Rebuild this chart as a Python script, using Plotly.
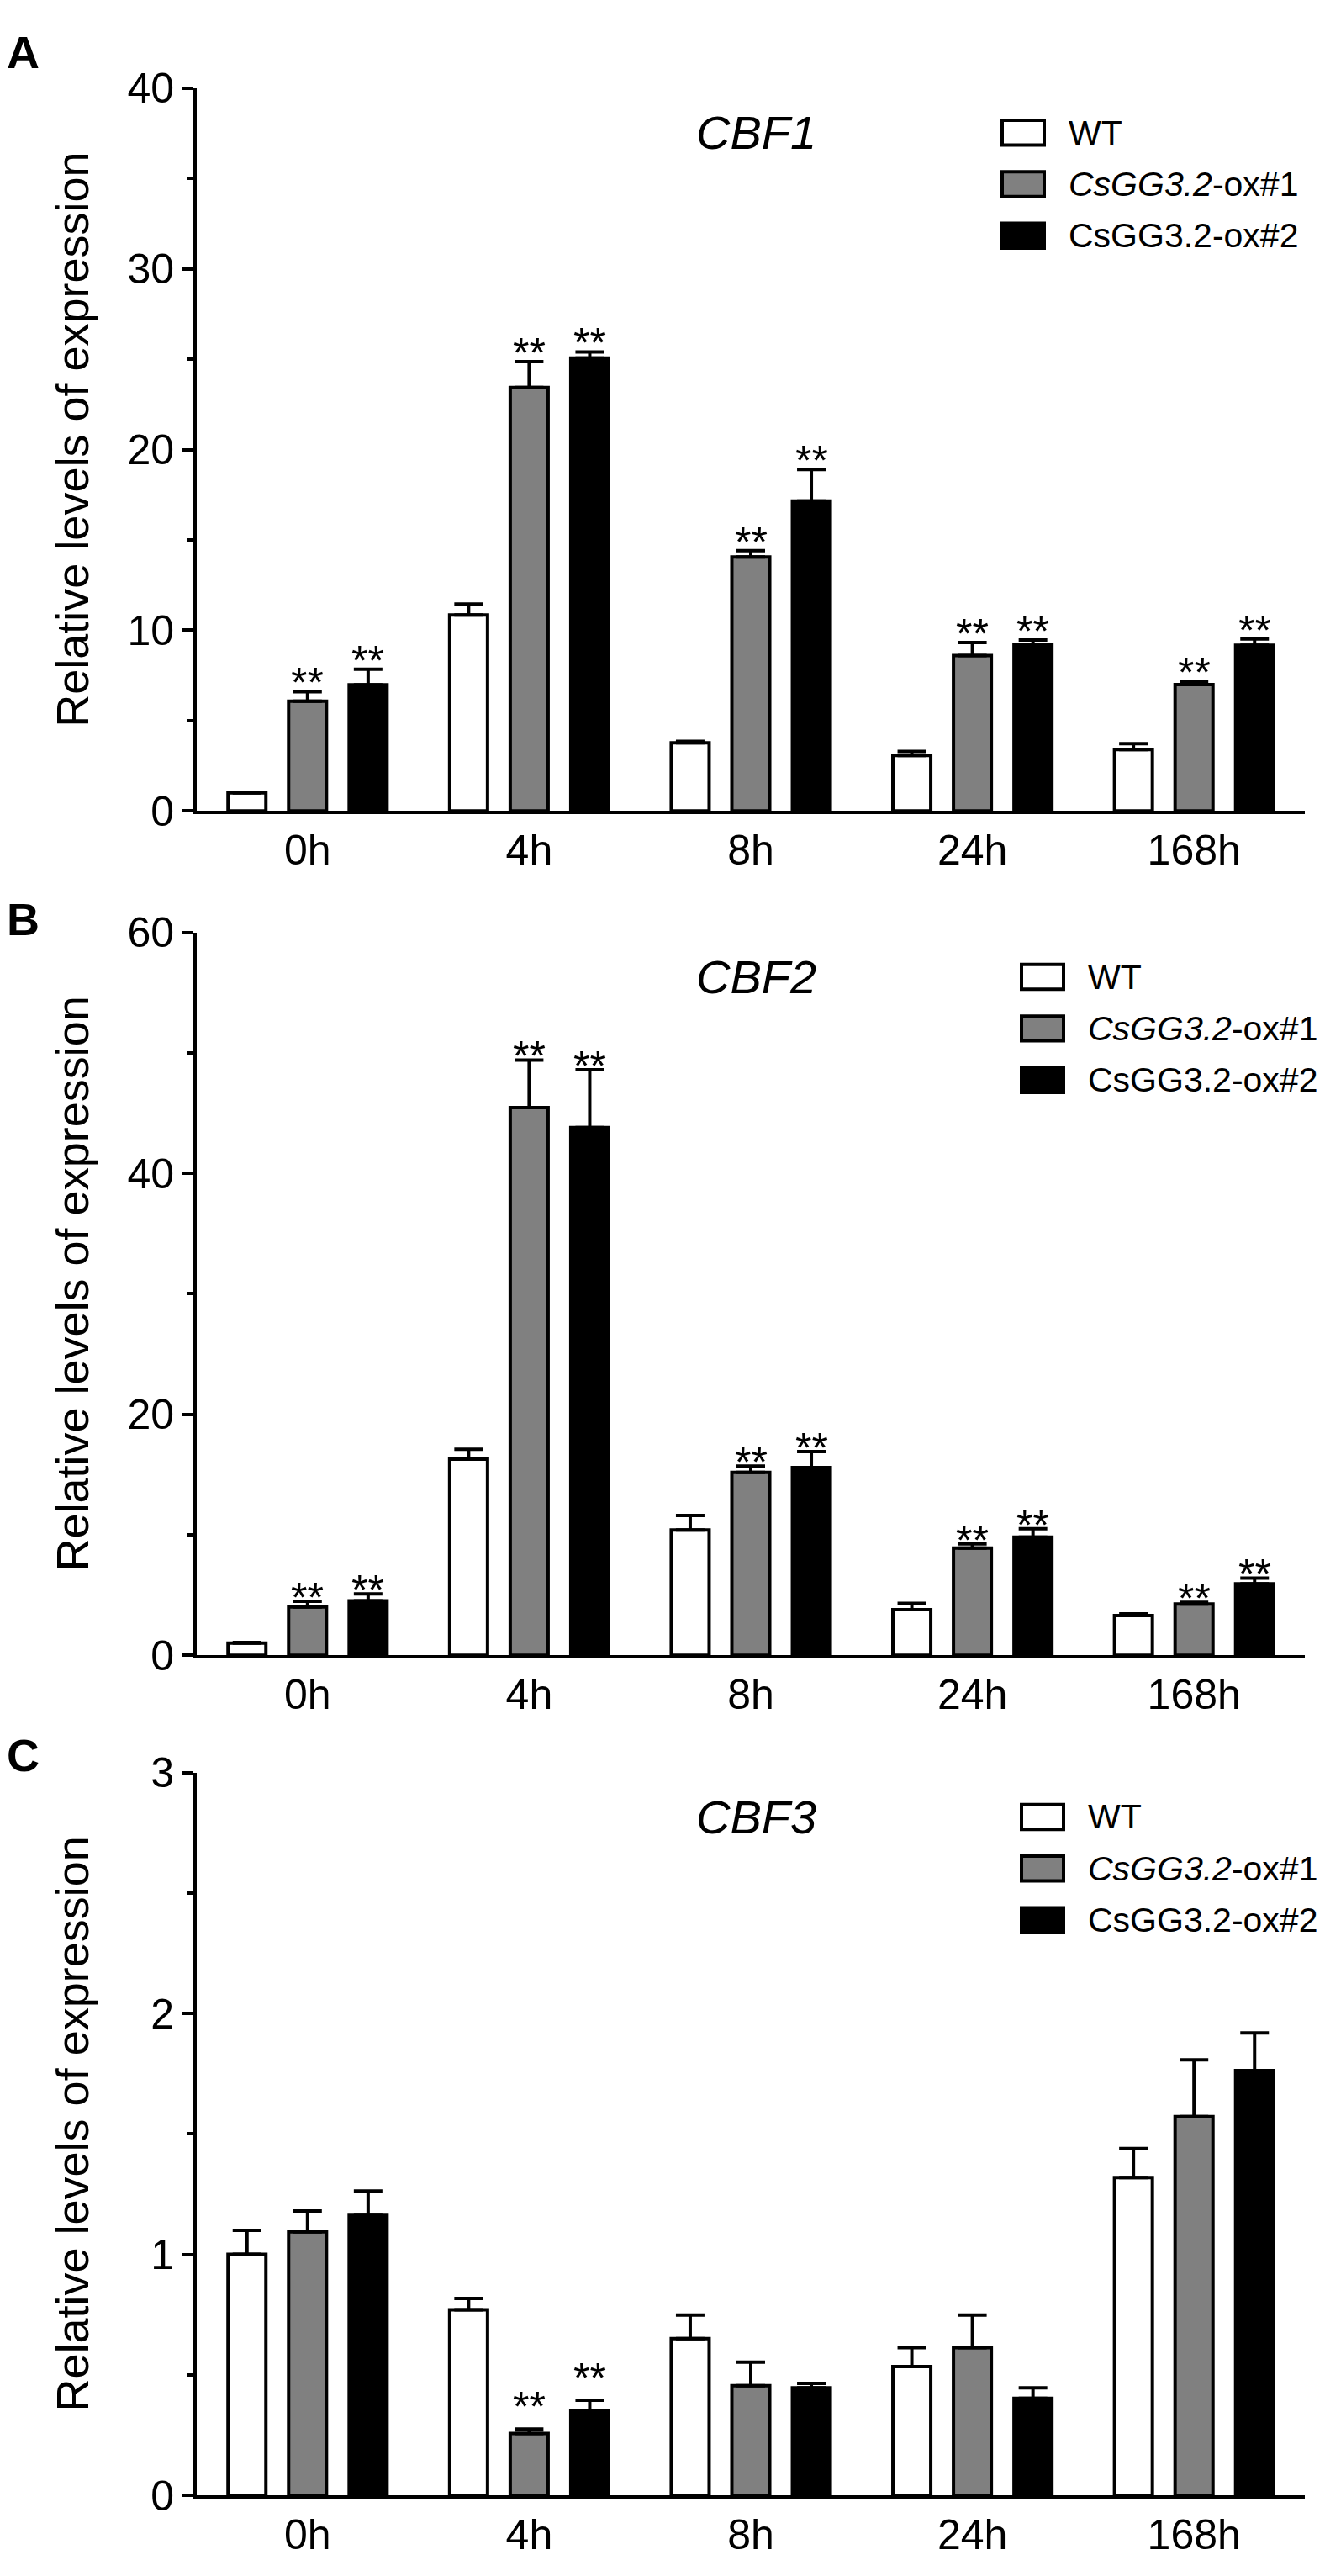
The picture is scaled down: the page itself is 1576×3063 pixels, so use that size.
import plotly.graph_objects as go
from plotly.subplots import make_subplots

# target picture size and the page margin the browser adds around the figure
W, H = 1576, 3063
PAD = 8
FW, FH = W - 2 * PAD, H - 2 * PAD

# time points and plant lines
times = ["0h", "4h", "8h", "24h", "168h"]
lines = ["WT", "CsGG3.2-ox#1", "CsGG3.2-ox#2"]
legend_labels = ["WT", "<i>CsGG3.2</i>-ox#1", "CsGG3.2-ox#2"]
colors = ["white", "#808080", "black"]
genes = ["CBF1", "CBF2", "CBF3"]
panel_letters = ["A", "B", "C"]

# CBF1: means and upper error (SD)
cbf1_wt = [1.0, 10.85, 3.77, 3.07, 3.4]
cbf1_wt_err = [0.0, 0.6, 0.08, 0.23, 0.32]
cbf1_ox1 = [6.08, 23.43, 14.05, 8.6, 6.99]
cbf1_ox1_err = [0.52, 1.43, 0.36, 0.72, 0.19]
cbf1_ox2 = [6.98, 25.06, 17.15, 9.2, 9.17]
cbf1_ox2_err = [0.86, 0.34, 1.75, 0.26, 0.35]
cbf1_sig = [["", "", "", "", ""], ["**"] * 5, ["**"] * 5]

# CBF2
cbf2_wt = [1.0, 16.27, 10.4, 3.78, 3.3]
cbf2_wt_err = [0.05, 0.83, 1.2, 0.52, 0.13]
cbf2_ox1 = [4.0, 45.45, 15.18, 8.89, 4.26]
cbf2_ox1_err = [0.48, 3.95, 0.52, 0.36, 0.13]
cbf2_ox2 = [4.52, 43.8, 15.57, 9.8, 5.92]
cbf2_ox2_err = [0.57, 4.8, 1.33, 0.7, 0.48]
cbf2_sig = [["", "", "", "", ""], ["**"] * 5, ["**"] * 5]

# CBF3
cbf3_wt = [1.0, 0.77, 0.65, 0.534, 1.319]
cbf3_wt_err = [0.10, 0.047, 0.098, 0.079, 0.12]
cbf3_ox1 = [1.094, 0.257, 0.455, 0.613, 1.572]
cbf3_ox1_err = [0.086, 0.018, 0.098, 0.135, 0.235]
cbf3_ox2 = [1.165, 0.352, 0.446, 0.403, 1.763]
cbf3_ox2_err = [0.098, 0.043, 0.019, 0.043, 0.156]
cbf3_sig = [["", "", "", "", ""], ["", "**", "", "", ""], ["", "**", "", "", ""]]

panels = [
    ([cbf1_wt, cbf1_ox1, cbf1_ox2], [cbf1_wt_err, cbf1_ox1_err, cbf1_ox2_err], cbf1_sig),
    ([cbf2_wt, cbf2_ox1, cbf2_ox2], [cbf2_wt_err, cbf2_ox1_err, cbf2_ox2_err], cbf2_sig),
    ([cbf3_wt, cbf3_ox1, cbf3_ox2], [cbf3_wt_err, cbf3_ox1_err, cbf3_ox2_err], cbf3_sig),
]
y_ranges = [[0, 40], [0, 60], [0, 3]]
y_dticks = [10, 20, 1]

# layout in picture pixels
x_left, x_right = 234, 1552
panel_tops = [78, 1101, 2119]
panel_h = 876
legend_x = [1192, 1215, 1215]
letter_y = [35, 1085, 2098]
star_shift = [10, 4, 26]
bargap = 0.18
FONT = "Liberation Sans, Arial, sans-serif"


def px_x(p):
    return (p - PAD) / FW


def px_y(p):
    return 1 - (p - PAD) / FH


fig = make_subplots(rows=3, cols=1)

slot_px = (x_right - x_left) / len(times) * (1 - bargap) / 3

for r, (means, errs, sigs) in enumerate(panels, start=1):
    for k in range(3):
        fig.add_trace(go.Bar(
            x=times, y=means[k], name=lines[k],
            marker=dict(color=colors[k], line=dict(color="black", width=4)),
            error_y=dict(type="data", symmetric=False, array=errs[k],
                         arrayminus=[0] * len(times), color="black",
                         thickness=4, width=17),
            showlegend=False,
        ), row=r, col=1)
        for i, t in enumerate(times):
            if sigs[k][i]:
                fig.add_annotation(
                    x=t, y=means[k][i] + errs[k][i], xref=f"x{r}", yref=f"y{r}",
                    text=sigs[k][i], showarrow=False, yanchor="middle",
                    xshift=(k - 1) * slot_px, yshift=star_shift[r - 1],
                    font=dict(size=50, color="black", family=FONT))

    top = panel_tops[r - 1]
    fig.update_xaxes(row=r, col=1,
                     domain=[px_x(x_left), px_x(x_right)],
                     range=[-0.5, len(times) - 0.5],
                     showline=True, linewidth=4, linecolor="black",
                     ticks="", showgrid=False, zeroline=False,
                     tickfont=dict(size=50, color="black", family=FONT))
    fig.update_yaxes(row=r, col=1,
                     domain=[px_y(top + panel_h), px_y(top)],
                     range=y_ranges[r - 1], dtick=y_dticks[r - 1],
                     showline=True, linewidth=4, linecolor="black",
                     ticks="outside", ticklen=13, tickwidth=4, tickcolor="black",
                     minor=dict(dtick=y_dticks[r - 1] / 2, ticks="outside",
                                ticklen=7, tickwidth=4, tickcolor="black"),
                     showgrid=False, zeroline=False,
                     tickfont=dict(size=50, color="black", family=FONT))

    # y title
    fig.add_annotation(x=px_x(86), y=px_y(top + panel_h / 2 - 12), xref="paper", yref="paper",
                       text="Relative levels of expression", textangle=-90,
                       showarrow=False, xanchor="center", yanchor="middle",
                       font=dict(size=54, color="black", family=FONT))
    # panel letter
    fig.add_annotation(x=px_x(6), y=px_y(letter_y[r - 1]), xref="paper", yref="paper",
                       text=f"<b>{panel_letters[r - 1]}</b>", showarrow=False,
                       xanchor="left", yanchor="middle",
                       font=dict(size=54, color="black", family=FONT))
    # gene name
    fig.add_annotation(x=px_x(826), y=px_y(top + 54), xref="paper", yref="paper",
                       text=f"<i>{genes[r - 1]}</i>", showarrow=False,
                       xanchor="left", yanchor="middle",
                       font=dict(size=56, color="black", family=FONT))
    # legend
    for k in range(3):
        cy = top + 54 + k * 62.5
        lx = legend_x[r - 1]
        fig.add_shape(type="rect", xref="paper", yref="paper",
                      x0=px_x(lx), x1=px_x(lx + 50),
                      y0=px_y(cy + 15), y1=px_y(cy - 15),
                      fillcolor=colors[k], line=dict(color="black", width=4))
        fig.add_annotation(x=px_x(lx + 77), y=px_y(cy), xref="paper", yref="paper",
                           text=legend_labels[k], showarrow=False,
                           xanchor="left", yanchor="middle",
                           font=dict(size=41, color="black", family=FONT))

fig.update_layout(
    width=FW, height=FH,
    margin=dict(l=0, r=0, t=0, b=0),
    barmode="group", bargap=bargap, bargroupgap=0.375,
    plot_bgcolor="white", paper_bgcolor="white",
    font=dict(family=FONT, color="black"),
    showlegend=False,
)

fig.write_html("out.html")
